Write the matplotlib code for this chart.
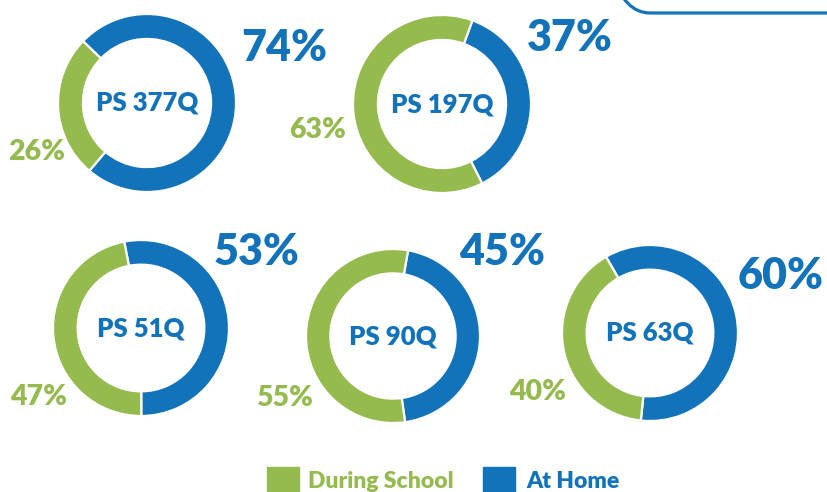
import matplotlib
matplotlib.use("Agg")
import matplotlib.pyplot as plt
from matplotlib.patches import Rectangle, FancyBboxPatch

# ---- data ----
schools = ["PS 377Q", "PS 197Q", "PS 51Q", "PS 90Q", "PS 63Q"]
at_home = [74, 37, 53, 45, 60]
during_school = [26, 63, 47, 55, 40]
legend_labels = ["During School", "At Home"]

# ---- styling / layout ----
BLUE = "#1273BB"
GREEN = "#95BA4E"
W, H = 827, 492
FONT = ["Lato", "DejaVu Sans"]
WEIGHT = "heavy"

# layout in image pixel coords (x, y from top)
centers = [(147, 103), (442, 104), (141, 328), (393, 336), (650, 333)]
radii = [89, 89, 88, 87, 88]
start_angles = [136, 70, 101, 80, 120]
big_pos = [(284, 48), (570, 38), (257, 252), (502, 252), (781, 276)]
small_pos = [(37, 152), (318, 130), (39, 397), (284, 398), (538, 392)]

fig = plt.figure(figsize=(W / 100, H / 100), dpi=100)
ax = fig.add_axes([0, 0, 1, 1])


def Y(y):
    return H - y


for i, name in enumerate(schools):
    cx, cy = centers[i]
    r = radii[i]
    ax.pie([at_home[i], during_school[i]], colors=[BLUE, GREEN],
           center=(cx, Y(cy)), radius=r, startangle=start_angles[i],
           counterclock=False,
           wedgeprops=dict(width=r * 0.28, edgecolor="white", linewidth=1.6))
    ax.text(cx, Y(cy), name, ha="center", va="center", color=BLUE,
            fontsize=18.5, fontweight=WEIGHT, family=FONT)
    bx, by = big_pos[i]
    ax.text(bx, Y(by), f"{at_home[i]}%", ha="center", va="center",
            color=BLUE, fontsize=31, fontweight=WEIGHT, family=FONT)
    sx, sy = small_pos[i]
    ax.text(sx, Y(sy), f"{during_school[i]}%", ha="center", va="center",
            color=GREEN, fontsize=20.5, fontweight=WEIGHT, family=FONT)

# top-right rounded frame
ax.add_patch(FancyBboxPatch((600, Y(13)), 400, 200,
                            boxstyle="round,pad=0,rounding_size=50",
                            fill=False, edgecolor=BLUE, linewidth=2.3,
                            clip_on=True))

# legend
ax.add_patch(Rectangle((267, Y(497)), 32, 30, color=GREEN))
ax.text(308, Y(481), legend_labels[0], ha="left", va="center", color=GREEN,
        fontsize=16.5, fontweight=WEIGHT, family=FONT)
ax.add_patch(Rectangle((483, Y(497)), 32, 30, color=BLUE))
ax.text(526, Y(481), legend_labels[1], ha="left", va="center", color=BLUE,
        fontsize=16.5, fontweight=WEIGHT, family=FONT)

ax.set_xlim(0, W)
ax.set_ylim(0, H)
ax.set_aspect("equal")
ax.axis("off")

fig.savefig("out.png", dpi=100, facecolor="white")
